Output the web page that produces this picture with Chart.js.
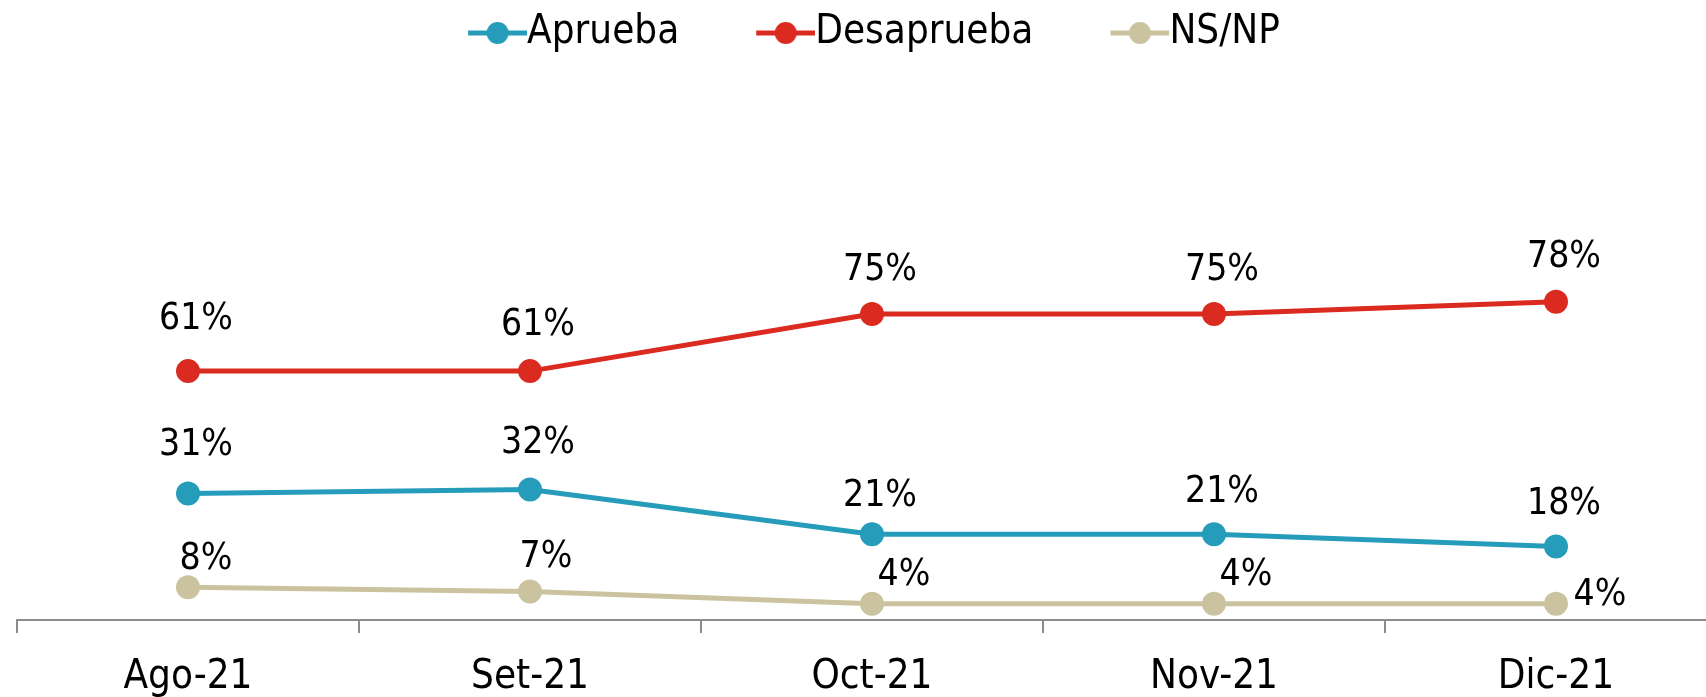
<!DOCTYPE html>
<html>
<head>
<meta charset="utf-8">
<script src="https://cdn.jsdelivr.net/npm/chart.js@4"></script>
<style>
  html, body { margin: 0; padding: 0; overflow: hidden; background: #fff; }
</style>
</head>
<body>
<canvas id="myChart" width="1740" height="723"></canvas>
<script>
// ---- data ----
const months = ['Ago-21', 'Set-21', 'Oct-21', 'Nov-21', 'Dic-21'];
const aprueba = [31, 32, 21, 21, 18];
const desaprueba = [61, 61, 75, 75, 78];
const nsnp = [8, 7, 4, 4, 4];

const FONT = '"DejaVu Sans Condensed", "DejaVu Sans", sans-serif';
const LEG_FS = 40;
const LEAD = 64;   // empty space before each legend line
const LINE = 59;   // legend line length
const BOX = LEAD + LINE - LEG_FS / 2;

// legend marker: line with a dot, drawn into a small canvas
function legendMark(color) {
  const c = document.createElement('canvas');
  c.width = BOX + LEG_FS;
  c.height = 30;
  const g = c.getContext('2d');
  g.strokeStyle = color;
  g.lineWidth = 5;
  g.beginPath();
  g.moveTo(LEG_FS / 2 + LEAD, 15);
  g.lineTo(BOX + LEG_FS, 15);
  g.stroke();
  g.fillStyle = color;
  g.beginPath();
  g.arc(LEG_FS / 2 + LEAD + LINE / 2, 15, 11, 0, Math.PI * 2);
  g.fill();
  return c;
}

const colors = ['#259cba', '#db2a1f', '#cbc39f'];
const marks = colors.map(legendMark);

// push the plot area down below the legend, and nudge the legend left
const legendGap = {
  id: 'legendGap',
  beforeInit(chart) {
    const fit = chart.legend.fit;
    chart.legend.fit = function () {
      fit.call(this);
      this.height = 212;
    };
  },
  afterLayout(chart) {
    chart.legend.left -= 30;
    chart.legend.right -= 30;
  }
};

// percent labels next to each point
const pctLabels = {
  id: 'pctLabels',
  afterDatasetsDraw(chart) {
    const ctx = chart.ctx;
    ctx.save();
    ctx.font = '37px ' + FONT;
    ctx.fillStyle = '#000';
    ctx.textAlign = 'center';
    ctx.textBaseline = 'middle';
    chart.data.datasets.forEach((ds, i) => {
      const meta = chart.getDatasetMeta(i);
      meta.data.forEach((pt, j) => {
        const off = ds.labelOffset[j];
        ctx.fillText(ds.data[j] + '%', pt.x + off[0], pt.y + off[1]);
      });
    });
    ctx.restore();
  }
};

function series(label, data, color, offsets) {
  return {
    label: label,
    data: data,
    borderColor: color,
    backgroundColor: color,
    borderWidth: 5,
    pointRadius: 12,
    pointHoverRadius: 12,
    pointBorderWidth: 0,
    tension: 0,
    clip: false,
    labelOffset: offsets
  };
}

const ctx = document.getElementById('myChart');

new Chart(ctx, {
  type: 'line',
  data: {
    labels: months,
    datasets: [
      series('Aprueba', aprueba, colors[0], [[8, -48], [8, -46], [8, -38], [8, -42], [8, -42]]),
      series('Desaprueba', desaprueba, colors[1], [[8, -52], [8, -46], [8, -44], [8, -44], [8, -44]]),
      series('NS/NP', nsnp, colors[2], [[18, -28], [16, -34], [32, -28], [32, -28], [44, -8]])
    ]
  },
  options: {
    responsive: false,
    animation: false,
    layout: { padding: { left: 17, right: 13, top: 0, bottom: 0 } },
    plugins: {
      tooltip: { enabled: false },
      legend: {
        position: 'top',
        labels: {
          usePointStyle: true,
          pointStyleWidth: BOX,
          boxWidth: BOX,
          padding: 13,
          color: '#000',
          font: { size: LEG_FS, family: FONT },
          generateLabels(chart) {
            const items = Chart.defaults.plugins.legend.labels.generateLabels(chart);
            items.forEach((it, i) => { it.pointStyle = marks[i]; });
            return items;
          }
        }
      }
    },
    scales: {
      x: {
        offset: true,
        grid: {
          offset: true,
          drawOnChartArea: false,
          drawTicks: true,
          tickLength: 13,
          color: '#8c8c8c',
          lineWidth: 2
        },
        border: { color: '#8c8c8c', width: 2 },
        ticks: {
          color: '#000',
          padding: 21,
          font: { size: 40, family: FONT }
        }
      },
      y: {
        display: false,
        min: 0,
        max: 100
      }
    }
  },
  plugins: [legendGap, pctLabels]
});
</script>
</body>
</html>
